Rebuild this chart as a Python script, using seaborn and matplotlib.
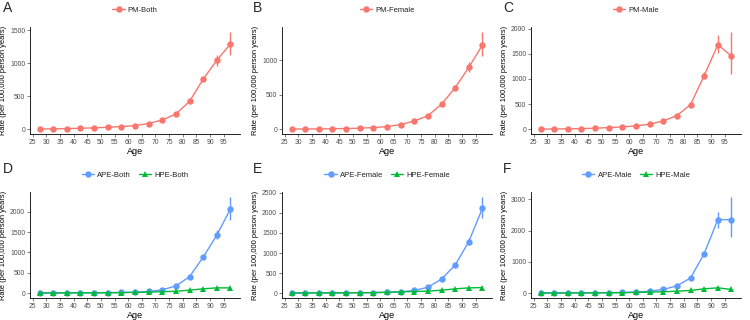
import numpy as np
import pandas as pd
import matplotlib
matplotlib.use("Agg")
import matplotlib.pyplot as plt
from matplotlib.ticker import MultipleLocator
import seaborn as sns

# ---------------- data ----------------
ages = [27.5, 32.5, 37.5, 42.5, 47.5, 52.5, 57.5, 62.5, 67.5, 72.5, 77.5, 82.5, 87.5, 92.5, 97.5]
x_ticks = [25, 30, 35, 40, 45, 50, 55, 60, 65, 70, 75, 80, 85, 90, 95]

pm_both = [3, 5, 10, 15, 20, 30, 40, 55, 86, 141, 231, 423, 760, 1047, 1294]
pm_both_lo = [2, 4, 8, 13, 18, 27, 36, 51, 81, 134, 222, 410, 725, 966, 1122]
pm_both_hi = [4, 6, 12, 17, 22, 33, 44, 59, 91, 148, 240, 436, 795, 1125, 1475]

pm_female = [2, 3, 4, 7, 10, 15, 24, 38, 67, 119, 195, 362, 600, 895, 1219]
pm_female_lo = [1, 2, 3, 6, 9, 13, 22, 35, 63, 114, 188, 352, 565, 824, 1052]
pm_female_hi = [3, 4, 5, 8, 11, 17, 26, 41, 71, 124, 202, 372, 635, 976, 1405]

pm_male = [2, 4, 7, 13, 20, 33, 46, 66, 99, 166, 271, 490, 1066, 1682, 1457]
pm_male_lo = [1, 3, 6, 11, 18, 30, 42, 62, 94, 159, 262, 476, 1020, 1523, 1093]
pm_male_hi = [3, 5, 8, 15, 22, 36, 50, 70, 104, 173, 280, 504, 1139, 1868, 1934]

ape_both = [2, 3, 5, 7, 9, 12, 16, 22, 40, 81, 177, 403, 887, 1427, 2073]
ape_both_lo = [1, 2, 4, 6, 8, 11, 15, 20, 37, 77, 170, 392, 847, 1323, 1806]
ape_both_hi = [3, 4, 6, 8, 10, 13, 17, 24, 43, 85, 184, 414, 927, 1548, 2371]
hpe_both = [3, 4, 5, 6, 7, 9, 12, 18, 25, 35, 45, 73, 105, 129, 129]
hpe_both_lo = [2, 3, 4, 5, 6, 8, 11, 16, 23, 32, 41, 68, 98, 120, 119]
hpe_both_hi = [4, 5, 6, 7, 8, 10, 13, 20, 27, 38, 49, 78, 112, 138, 139]

ape_female = [2, 3, 4, 5, 7, 9, 13, 22, 33, 65, 147, 350, 700, 1287, 2117]
ape_female_lo = [1, 2, 3, 4, 6, 8, 12, 20, 31, 61, 141, 340, 680, 1189, 1881]
ape_female_hi = [3, 4, 5, 6, 8, 10, 14, 24, 35, 69, 153, 360, 720, 1384, 2402]
hpe_female = [3, 4, 5, 6, 7, 9, 12, 20, 30, 40, 49, 73, 106, 130, 138]
hpe_female_lo = [2, 3, 4, 5, 6, 8, 11, 18, 27, 36, 45, 67, 98, 120, 126]
hpe_female_hi = [4, 5, 6, 7, 8, 10, 13, 22, 33, 44, 53, 79, 114, 140, 150]

ape_male = [2, 3, 5, 8, 11, 15, 20, 32, 63, 116, 232, 484, 1263, 2351, 2347]
ape_male_lo = [1, 2, 4, 7, 10, 14, 18, 29, 58, 110, 222, 470, 1190, 2074, 1782]
ape_male_hi = [3, 4, 6, 9, 12, 16, 22, 35, 68, 122, 242, 498, 1340, 2579, 3079]
hpe_male = [3, 4, 5, 7, 8, 10, 14, 24, 32, 42, 63, 84, 137, 168, 116]
hpe_male_lo = [2, 3, 4, 6, 7, 9, 12, 21, 29, 38, 57, 77, 125, 152, 100]
hpe_male_hi = [4, 5, 6, 8, 9, 11, 16, 27, 35, 46, 69, 91, 149, 184, 132]

# ---------------- style ----------------
sns.set_theme(style="white")
plt.rcParams['font.family'] = ['Liberation Sans', 'DejaVu Sans']

C_PM = "#F8766D"
C_APE = "#619CFF"
C_HPE = "#00BA38"

panels = [
    ("A", [("PM-Both", pm_both, pm_both_lo, pm_both_hi, C_PM, "o")], 500),
    ("B", [("PM-Female", pm_female, pm_female_lo, pm_female_hi, C_PM, "o")], 500),
    ("C", [("PM-Male", pm_male, pm_male_lo, pm_male_hi, C_PM, "o")], 500),
    ("D", [("APE-Both", ape_both, ape_both_lo, ape_both_hi, C_APE, "o"),
           ("HPE-Both", hpe_both, hpe_both_lo, hpe_both_hi, C_HPE, "^")], 500),
    ("E", [("APE-Female", ape_female, ape_female_lo, ape_female_hi, C_APE, "o"),
           ("HPE-Female", hpe_female, hpe_female_lo, hpe_female_hi, C_HPE, "^")], 500),
    ("F", [("APE-Male", ape_male, ape_male_lo, ape_male_hi, C_APE, "o"),
           ("HPE-Male", hpe_male, hpe_male_lo, hpe_male_hi, C_HPE, "^")], 1000),
]

fig = plt.figure(figsize=(7.5, 3.2), dpi=100)
lefts = [0.040, 0.376, 0.708]
letter_x = [3 / 750, 253 / 750, 503 / 750]
W = 0.28
rows = [(0.581, 0.334), (0.069, 0.331)]
letter_y = [1 - 8 / 320, 1 - 169 / 320]

for i, (letter, series, step) in enumerate(panels):
    r, c = divmod(i, 3)
    b, h = rows[r]
    ax = fig.add_axes([lefts[c], b, W, h])
    frames = []
    for name, vals, lo, hi, col, mk in series:
        frames.append(pd.DataFrame({"Age": ages, "Rate": vals, "lo": lo, "hi": hi, "Series": name}))
    df = pd.concat(frames, ignore_index=True)
    names = [s[0] for s in series]
    pal = {s[0]: s[4] for s in series}
    mks = {s[0]: s[5] for s in series}
    # error bars
    for name in names:
        sub = df[df["Series"] == name]
        ax.vlines(sub["Age"], sub["lo"], sub["hi"], color=pal[name], lw=1.0, zorder=2)
    sns.lineplot(data=df, x="Age", y="Rate", hue="Series", style="Series",
                 hue_order=names, style_order=names, palette=pal,
                 markers=mks, dashes=False, markersize=4.6, markeredgewidth=0,
                 linewidth=1.0, ax=ax, zorder=3, legend=True)
    # limits like ggplot default expansion
    ymin = min(df["lo"].min(), 0)
    ymax = df["hi"].max()
    pad = 0.05 * (ymax - ymin)
    ax.set_ylim(ymin - pad, ymax + pad)
    ax.set_xlim(24, 101)
    ax.set_xticks(x_ticks)
    ax.yaxis.set_major_locator(MultipleLocator(step))
    ax.set_xlabel("Age", fontsize=6.5, labelpad=1, color="black")
    ax.set_ylabel("Rate (per 100,000 person years)", fontsize=5.4, labelpad=2, color="black")
    ax.tick_params(axis="both", labelsize=4.9, colors="#4D4D4D", length=2, width=0.5,
                   pad=1.5, direction="out", bottom=True, left=True)
    for sp in ["top", "right"]:
        ax.spines[sp].set_visible(False)
    for sp in ["left", "bottom"]:
        ax.spines[sp].set_color("black")
        ax.spines[sp].set_linewidth(0.6)
    ax.grid(False)
    leg = ax.legend(loc="center", bbox_to_anchor=(0.5, 1.16), ncol=len(names),
                    frameon=False, fontsize=5.5, handlelength=1.6, handletextpad=0.4,
                    columnspacing=1.0, borderaxespad=0)
    for t in leg.get_texts():
        t.set_color("#222222")
    fig.text(letter_x[c], letter_y[r], letter, fontsize=10, va="center", ha="left")

fig.savefig("out.png", dpi=100)
